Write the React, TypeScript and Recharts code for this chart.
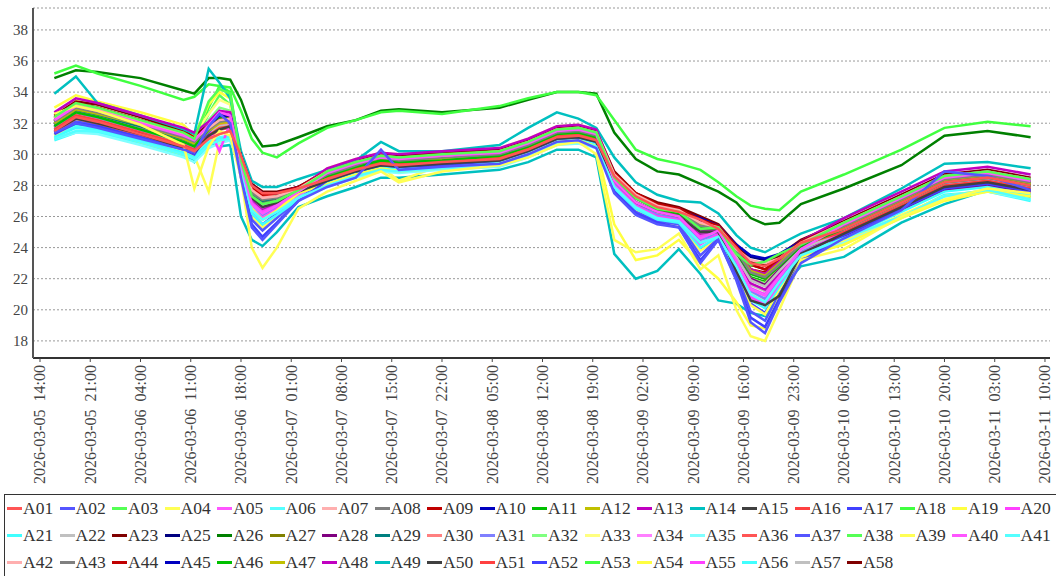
import React from 'react';
import { LineChart, Line, XAxis, YAxis, CartesianGrid } from 'recharts';

// sample times, hours after 2026-03-05 14:00
const HOURS = [2, 5, 8, 14, 20, 21.5, 23.5, 25, 26.5, 28, 29.5, 31, 33, 36, 40, 44, 47.5, 50, 56, 64, 68, 72, 75, 77.5, 80, 83, 86, 89, 92, 94.5, 97, 99, 101, 103, 106, 112, 120, 126, 132, 138];

const X_TICKS = [0, 7, 14, 21, 28, 35, 42, 49, 56, 63, 70, 77, 84, 91, 98, 105, 112, 119, 126, 133, 140];
const X_TICK_LABELS = [
  '2026-03-05  14:00', '2026-03-05  21:00', '2026-03-06  04:00', '2026-03-06  11:00',
  '2026-03-06  18:00', '2026-03-07  01:00', '2026-03-07  08:00', '2026-03-07  15:00',
  '2026-03-07  22:00', '2026-03-08  05:00', '2026-03-08  12:00', '2026-03-08  19:00',
  '2026-03-09  02:00', '2026-03-09  09:00', '2026-03-09  16:00', '2026-03-09  23:00',
  '2026-03-10  06:00', '2026-03-10  13:00', '2026-03-10  20:00', '2026-03-11  03:00',
  '2026-03-11  10:00',
];
const Y_TICKS = [18, 20, 22, 24, 26, 28, 30, 32, 34, 36, 38];

const A01 = [31.5,32.4,32.1,31.3,30.5,30.2,31.0,31.3,31.5,29.9,28.0,27.5,27.5,27.8,28.4,29.0,29.4,29.3,29.5,29.7,30.3,31.1,31.2,30.9,28.6,27.3,26.6,26.3,25.8,25.2,24.0,23.0,22.8,23.3,24.3,25.2,26.9,28.2,28.5,28.0];
const A02 = [31.4,32.0,31.7,31.0,30.3,30.1,31.8,32.6,32.0,28.5,25.3,24.5,25.5,27.0,27.9,28.5,30.3,29.0,29.2,29.4,30.0,30.8,30.9,30.4,27.5,26.1,25.5,25.3,23.0,24.5,21.9,19.2,18.5,20.5,23.0,24.6,26.4,28.9,28.6,27.7];
const A03 = [32.4,33.3,33.0,32.2,31.4,31.0,33.4,34.2,33.9,29.6,27.3,26.8,27.0,27.7,28.9,29.5,29.9,29.8,30.0,30.2,30.8,31.6,31.7,31.4,28.5,27.2,26.5,26.3,25.2,25.3,23.6,22.9,23.1,23.6,24.2,25.6,27.3,28.6,28.9,28.4];
const A04 = [32.6,33.1,32.8,31.9,30.6,27.8,30.5,31.5,31.2,28.5,24.0,22.7,24.0,26.5,27.6,28.3,28.9,28.2,28.9,29.3,29.8,30.6,30.8,30.0,24.5,23.7,23.9,24.9,22.6,23.5,20.0,18.3,18.0,20.0,23.2,23.9,26.0,27.1,27.8,27.5];
const A05 = [32.2,33.1,32.8,32.0,31.2,30.9,31.9,32.7,32.5,29.4,26.8,26.2,26.7,27.6,28.8,29.4,29.8,29.7,29.9,30.1,30.7,31.5,31.6,31.3,28.3,26.9,26.3,26.0,24.6,25.1,23.2,21.3,20.9,22.1,23.9,25.5,27.2,28.5,28.8,28.3];
const A06 = [31.0,31.5,31.5,30.8,30.0,29.7,30.6,30.9,31.0,29.0,26.4,25.8,26.3,27.2,28.0,28.6,29.0,28.9,29.1,29.3,29.9,30.7,30.8,30.5,27.9,26.6,25.9,25.7,24.3,24.7,22.8,21.0,20.5,21.8,23.5,24.6,26.0,27.3,27.7,27.1];
const A07 = [32.3,33.2,32.9,32.1,31.3,31.0,31.7,32.2,32.3,29.8,27.7,27.2,27.3,27.8,28.9,29.5,29.9,29.8,29.9,30.2,30.8,31.6,31.7,31.4,28.7,27.4,26.7,26.4,25.6,25.3,23.9,23.2,23.0,23.3,24.3,25.6,27.3,28.6,28.9,28.4];
const A08 = [32.1,33.0,32.7,31.9,31.1,30.8,31.6,32.1,32.2,29.7,27.5,27.1,27.2,27.7,28.7,29.3,29.8,29.6,29.8,30.0,30.6,31.4,31.5,31.2,28.6,27.2,26.6,26.3,25.4,25.2,23.8,22.4,22.1,22.9,24.2,25.4,27.1,28.4,28.7,28.2];
const A09 = [32.4,33.3,33.0,32.2,31.4,31.1,31.7,32.2,32.3,29.9,27.9,27.4,27.5,27.9,28.9,29.5,29.9,29.8,30.0,30.2,30.8,31.6,31.7,31.4,28.8,27.5,26.8,26.5,25.8,25.4,24.1,22.9,22.6,23.3,24.4,25.6,27.3,28.6,28.9,28.4];
const A10 = [32.2,33.1,32.9,32.1,31.3,31.0,31.8,32.5,32.5,29.9,28.0,27.5,27.5,27.9,28.8,29.4,29.9,29.8,29.9,30.1,30.7,31.5,31.7,31.4,28.7,27.4,26.7,26.4,25.9,25.4,24.2,23.5,23.3,23.6,24.4,25.6,27.3,28.6,28.9,28.4];
const A11 = [31.8,32.7,32.4,31.6,30.8,30.5,31.6,32.3,32.3,29.8,27.6,27.1,27.3,27.8,28.6,29.2,29.6,29.5,29.6,29.9,30.5,31.3,31.4,31.1,28.5,27.2,26.5,26.2,25.3,25.2,23.7,22.3,22.0,22.8,24.1,25.2,26.9,28.2,28.5,28.0];
const A12 = [32.0,32.9,32.6,31.9,31.0,30.7,31.5,32.0,32.1,29.8,27.6,27.1,27.3,27.8,28.6,29.2,29.6,29.5,29.7,29.9,30.5,31.3,31.4,31.1,28.6,27.3,26.6,26.4,25.5,25.3,23.8,22.5,22.2,23.0,24.3,25.3,27.0,28.3,28.6,28.1];
const A13 = [32.7,33.6,33.3,32.5,31.7,31.4,32.1,32.8,32.7,29.8,27.6,27.1,27.3,27.8,29.1,29.7,30.1,30.0,30.2,30.4,31.0,31.8,31.9,31.6,28.7,27.4,26.7,26.5,25.6,25.4,23.9,22.6,22.3,23.1,24.4,25.9,27.6,28.9,29.2,28.7];
const A14 = [33.9,35.0,33.3,32.5,31.6,31.3,35.5,34.6,33.6,30.2,28.3,27.9,27.9,28.4,29.0,29.6,30.8,30.2,30.2,30.6,31.7,32.7,32.3,31.7,29.8,28.2,27.4,27.0,26.9,26.2,24.8,24.0,23.7,24.2,24.9,25.9,27.8,29.4,29.5,29.1];
const A15 = [31.5,32.3,32.0,31.3,30.4,30.1,31.2,31.6,31.8,29.5,27.2,26.6,26.9,27.6,28.3,28.9,29.3,29.2,29.4,29.6,30.2,31.0,31.1,30.8,28.3,26.9,26.3,26.0,25.0,25.0,22.5,20.6,20.3,20.9,23.6,24.9,26.6,27.9,28.2,27.7];
const A16 = [31.6,32.5,32.2,31.4,30.6,30.3,31.2,31.7,31.8,29.8,27.8,27.3,27.4,27.8,28.5,29.1,29.5,29.4,29.5,29.8,30.4,31.2,31.3,31.0,28.5,27.2,26.5,26.2,25.6,25.2,23.8,22.4,22.0,22.9,24.2,25.0,26.7,28.0,28.3,27.8];
const A17 = [31.3,32.0,31.8,31.1,30.3,30.0,31.4,32.3,32.0,28.5,25.5,24.7,25.6,27.0,28.3,28.9,29.3,29.2,29.3,29.6,30.2,31.0,31.1,30.8,27.6,26.2,25.6,25.3,23.2,24.5,22.0,19.5,18.9,20.7,23.1,24.8,26.5,27.8,28.1,27.6];
const A18 = [35.2,35.7,35.2,34.4,33.5,33.7,34.5,34.4,34.3,32.8,31.0,30.1,29.8,30.7,31.7,32.2,32.7,32.8,32.6,33.1,33.6,34.0,34.0,33.8,32.2,30.3,29.7,29.4,29.0,28.2,27.3,26.7,26.5,26.4,27.6,28.7,30.3,31.7,32.1,31.8];
const A19 = [33.0,33.8,33.4,32.7,31.9,31.2,33.2,34.0,33.6,29.4,26.5,25.8,26.4,27.5,28.1,28.7,29.1,28.9,29.1,29.4,30.0,30.8,30.9,30.5,25.5,23.2,23.5,24.5,23.0,22.0,20.5,19.0,18.8,20.8,23.4,24.2,25.9,27.0,27.6,27.3];
const A20 = [31.8,32.7,32.4,31.6,30.8,30.5,31.7,30.2,32.0,29.2,26.5,25.9,26.5,27.5,28.6,29.2,29.6,29.5,29.6,29.9,30.5,31.3,31.4,31.1,28.0,26.7,26.0,25.8,24.2,24.9,22.8,20.8,20.3,21.7,23.6,25.0,26.6,27.9,28.2,27.7];
const A21 = [31.1,31.7,31.6,30.9,30.1,29.8,30.7,31.0,31.1,28.9,26.2,25.5,26.1,27.1,28.2,28.8,29.2,29.1,29.2,29.5,30.1,30.9,31.0,30.7,27.8,26.5,25.8,25.6,24.0,24.7,22.6,20.6,20.1,21.5,23.4,24.6,26.3,27.6,27.9,27.4];
const A22 = [31.6,32.5,32.2,31.4,30.6,30.3,31.3,31.8,31.9,29.5,27.2,26.7,27.0,27.6,28.5,29.1,29.5,29.4,29.5,29.8,30.4,31.2,31.3,31.0,28.3,27.0,26.3,26.0,25.0,25.0,23.4,21.9,21.5,22.5,23.9,25.0,26.7,28.0,28.3,27.8];
const A23 = [32.5,33.4,33.2,32.4,31.5,31.2,31.9,32.3,32.5,30.0,28.1,27.6,27.6,27.9,29.0,29.6,30.0,29.9,30.1,30.3,30.9,31.7,31.8,31.5,28.9,27.5,26.9,26.6,26.0,25.5,24.2,23.1,22.9,23.5,24.5,25.7,27.4,28.7,29.0,28.5];
const A25 = [32.2,33.1,32.8,32.0,31.2,30.9,31.7,32.3,32.3,29.8,27.8,27.4,27.4,27.8,28.8,29.4,29.8,29.7,29.9,30.1,30.7,31.5,31.6,31.3,28.7,27.4,26.7,26.4,25.7,25.3,24.1,23.4,23.2,23.4,24.4,25.5,27.2,28.5,28.8,28.3];
const A26 = [34.9,35.4,35.3,34.9,34.1,33.9,34.9,34.9,34.8,33.5,31.6,30.5,30.6,31.1,31.8,32.2,32.8,32.9,32.7,33.0,33.5,34.0,34.0,33.9,31.4,29.7,28.9,28.7,28.1,27.6,26.9,25.9,25.5,25.6,26.8,27.8,29.3,31.2,31.5,31.1];
const A27 = [32.1,33.0,32.7,32.0,31.1,30.8,31.6,32.1,32.2,29.8,27.7,27.2,27.3,27.8,28.8,29.4,29.8,29.7,29.9,30.1,30.7,31.5,31.6,31.3,28.6,27.3,26.6,26.3,25.6,25.3,23.9,22.6,22.3,23.1,24.3,25.4,27.1,28.4,28.7,28.2];
const A28 = [32.4,33.3,33.0,32.2,31.4,31.1,31.9,32.6,32.5,29.6,27.3,26.8,27.0,27.7,28.7,29.3,29.7,29.6,29.8,30.0,30.6,31.4,31.5,31.2,28.4,27.0,26.4,26.1,25.1,25.1,23.5,22.0,21.6,22.6,24.0,24.7,26.4,27.7,28.0,27.5];
const A29 = [31.9,32.8,32.5,31.8,30.9,30.6,31.5,32.1,32.1,29.7,27.5,27.0,27.2,27.7,28.7,29.3,29.7,29.6,29.8,30.0,30.6,31.4,31.5,31.2,28.5,27.2,26.5,26.3,25.4,25.2,23.7,22.4,22.1,22.9,24.2,25.4,27.1,28.4,28.7,28.2];
const A30 = [31.9,32.8,32.5,31.8,30.9,30.6,31.4,31.9,32.0,29.8,27.7,27.2,27.3,27.8,28.6,29.2,29.6,29.5,29.7,29.9,30.5,31.3,31.4,31.1,28.6,27.3,26.6,26.3,25.4,25.2,23.8,22.6,22.3,22.9,24.3,25.3,27.0,28.3,28.6,28.1];
const A31 = [31.7,32.5,32.3,31.5,30.7,30.4,31.6,32.4,32.2,29.3,26.8,26.1,26.6,27.5,28.5,29.1,29.5,29.4,29.6,29.8,30.4,31.2,31.3,31.0,28.1,26.8,26.1,25.9,24.5,24.9,23.0,21.2,20.7,22.0,23.7,25.1,26.8,28.1,28.4,27.9];
const A32 = [32.0,32.9,32.6,31.8,31.0,30.7,32.2,33.0,32.8,29.6,27.3,26.8,27.0,27.7,28.7,29.3,29.7,29.6,29.8,30.0,30.6,31.4,31.5,31.2,28.4,27.1,26.4,26.2,25.1,25.1,23.5,22.0,21.7,22.6,24.1,25.3,27.0,28.3,28.6,28.1];
const A33 = [32.6,33.5,33.2,32.4,31.6,31.3,32.6,33.5,33.2,29.2,26.5,25.9,26.5,27.5,29.1,29.7,30.1,30.0,30.1,30.4,31.0,31.8,31.9,31.6,28.3,26.9,26.3,26.0,24.5,25.1,23.1,21.1,20.6,22.0,23.9,25.6,27.3,28.6,28.9,28.4];
const A34 = [32.4,33.3,33.0,32.2,31.4,31.1,32.0,32.8,32.6,29.6,27.2,26.6,27.0,27.7,28.9,29.5,29.9,29.8,30.0,30.2,30.8,31.6,31.7,31.4,28.5,27.2,26.5,26.2,25.1,25.2,23.5,21.9,21.6,22.6,24.1,25.6,27.3,28.6,28.9,28.4];
const A35 = [31.0,31.4,31.3,30.6,29.8,29.5,30.4,30.7,30.9,29.0,26.6,26.0,26.4,27.2,27.9,28.5,28.9,28.8,29.0,29.2,29.8,30.6,30.7,30.4,28.0,26.6,26.0,25.7,24.5,24.7,23.0,21.3,20.9,22.0,23.6,24.3,25.9,27.3,27.6,27.1];
const A36 = [31.4,32.3,32.0,31.2,30.4,30.1,31.1,31.6,31.7,29.6,27.5,27.0,27.2,27.6,28.3,28.9,29.3,29.2,29.4,29.6,30.2,31.0,31.1,30.8,28.4,27.1,26.4,26.1,25.3,25.1,23.7,22.0,21.7,22.8,24.1,24.8,26.5,27.8,28.1,27.6];
const A37 = [31.4,32.1,31.9,31.2,30.4,30.1,31.5,32.2,32.1,28.7,25.8,25.1,25.9,27.1,28.4,29.0,29.4,29.3,29.5,29.7,30.3,31.1,31.1,30.8,27.7,26.3,25.7,25.5,23.5,24.6,22.3,19.9,19.3,21.0,23.2,25.4,27.2,28.6,28.7,28.0];
const A38 = [32.1,33.0,32.7,31.9,31.1,30.8,32.6,33.8,33.2,29.5,27.2,26.7,26.9,27.6,28.8,29.4,29.8,29.7,29.8,30.1,30.7,31.5,31.6,31.3,28.4,27.1,26.4,26.2,25.1,25.2,23.5,22.0,21.7,22.6,24.1,25.4,27.1,28.4,28.7,28.2];
const A39 = [31.2,32.1,31.8,31.0,30.2,29.9,27.6,30.8,31.0,28.8,26.0,25.3,26.0,27.1,28.2,28.8,29.2,28.3,29.3,29.5,30.1,30.9,31.0,30.7,27.7,26.4,25.7,25.5,23.8,24.6,22.4,20.3,19.7,21.3,23.3,24.4,26.1,27.3,27.7,27.4];
const A40 = [31.5,32.4,32.1,31.3,30.5,30.2,31.5,32.3,32.1,29.1,26.5,25.9,26.4,27.4,28.3,28.9,29.3,29.2,29.4,29.6,30.2,31.0,31.1,30.8,28.0,26.6,26.0,25.8,24.3,24.8,22.8,20.9,20.4,21.8,23.6,24.9,26.6,27.9,28.2,27.7];
const A41 = [31.2,31.8,31.7,31.0,30.2,29.9,30.8,31.1,31.2,29.1,26.5,25.9,26.4,27.3,28.3,28.9,29.3,29.2,29.3,29.6,30.2,31.0,31.1,30.8,28.0,26.6,26.0,25.7,24.3,24.8,22.9,21.0,20.6,21.8,23.6,24.7,26.4,27.7,28.0,27.5];
const A42 = [32.1,33.0,32.7,32.0,31.1,30.8,31.5,32.0,32.1,29.8,27.6,27.1,27.3,27.8,28.6,29.2,29.6,29.5,29.7,29.9,30.5,31.3,31.4,31.1,28.5,27.2,26.5,26.3,25.4,25.2,23.7,22.4,22.1,22.9,24.2,25.3,27.0,28.3,28.6,28.1];
const A43 = [31.9,32.8,32.5,31.7,30.9,30.6,31.4,31.9,32.0,29.6,27.3,26.8,27.0,27.7,28.6,29.2,29.6,29.5,29.7,29.9,30.5,31.3,31.4,31.1,28.4,27.1,26.4,26.1,25.1,25.1,23.5,22.0,21.6,22.6,24.0,25.1,26.8,28.2,28.4,27.9];
const A44 = [32.2,33.1,32.8,32.0,31.2,30.9,31.6,32.1,32.2,29.8,27.7,27.2,27.3,27.8,28.8,29.4,29.8,29.7,29.9,30.1,30.7,31.5,31.6,31.3,28.6,27.3,26.6,26.4,25.6,25.3,23.9,22.6,22.4,23.1,24.3,25.4,27.1,28.5,28.7,28.2];
const A45 = [32.0,32.9,32.6,31.8,31.0,30.7,31.6,32.3,32.3,29.8,27.6,27.1,27.3,27.8,28.7,29.3,29.7,29.6,29.8,30.0,30.6,31.4,31.5,31.2,28.5,27.2,26.5,26.3,25.4,25.2,23.7,22.4,22.1,22.9,24.2,25.3,27.0,28.3,28.6,28.1];
const A46 = [31.7,32.6,32.3,31.5,30.7,30.4,31.5,32.2,32.2,29.6,27.4,26.9,27.1,27.7,28.5,29.1,29.5,29.4,29.6,29.8,30.4,31.2,31.3,31.0,28.4,27.1,26.4,26.1,25.2,25.1,23.5,22.1,21.8,22.7,24.0,25.1,26.8,28.1,28.4,27.9];
const A47 = [31.9,32.8,32.5,31.7,30.9,30.6,31.4,31.9,32.0,29.7,27.6,27.0,27.2,27.7,28.6,29.2,29.6,29.5,29.7,29.9,30.5,31.3,31.4,31.1,28.5,27.2,26.5,26.2,25.4,25.1,23.7,22.4,22.1,22.8,24.2,25.2,26.9,28.2,28.5,28.0];
const A48 = [32.1,33.0,32.7,31.9,31.1,30.8,31.8,32.5,32.4,29.5,27.1,26.5,26.9,27.6,28.8,29.4,29.8,29.7,29.8,30.1,30.7,31.5,31.6,31.3,28.3,27.0,26.3,26.1,24.9,25.1,23.3,21.7,21.3,22.4,24.0,24.8,26.5,27.8,28.1,27.6];
const A49 = [31.3,31.9,31.6,31.0,30.2,29.5,30.8,30.5,30.6,26.0,24.5,24.1,25.0,26.6,27.3,27.9,28.5,28.5,28.7,29.0,29.5,30.3,30.3,29.8,23.6,22.0,22.5,23.9,22.3,20.6,20.4,19.8,19.6,21.2,22.8,23.4,25.6,26.8,27.7,27.3];
const A50 = [31.8,32.7,32.4,31.6,30.8,30.5,31.3,31.8,31.9,29.5,27.2,26.7,27.0,27.6,28.5,29.1,29.5,29.5,29.6,29.8,30.4,31.2,31.3,31.0,28.4,27.0,26.4,26.1,25.0,25.1,23.5,21.9,21.6,22.5,24.0,25.0,26.8,28.1,28.4,27.9];
const A51 = [31.7,32.6,32.3,31.5,30.7,30.4,31.3,31.8,31.9,29.9,27.8,27.3,27.4,27.8,28.5,29.1,29.5,29.4,29.6,29.8,30.4,31.2,31.3,31.0,28.5,27.2,26.5,26.3,25.6,25.2,23.8,22.6,22.3,23.1,24.2,25.1,26.8,28.1,28.4,27.9];
const A52 = [31.6,32.3,32.1,31.4,30.6,30.3,31.6,32.5,32.2,29.0,26.2,25.5,26.2,27.3,28.5,29.1,29.5,29.4,29.5,29.8,30.4,31.2,31.3,31.0,27.9,26.5,25.9,25.6,23.9,24.7,22.6,20.4,19.8,21.4,23.4,25.6,27.3,28.7,28.8,28.1];
const A53 = [31.9,32.8,32.5,31.8,30.9,30.6,33.0,34.4,34.0,29.7,27.5,26.9,27.1,27.7,28.6,29.2,29.6,29.5,29.7,29.9,30.5,31.3,31.4,31.1,28.4,27.1,26.4,26.2,25.2,25.1,23.6,22.8,23.0,23.4,24.1,25.2,26.9,28.2,28.5,28.0];
const A54 = [31.0,31.9,31.6,30.8,30.0,29.7,30.9,31.3,31.5,29.0,26.4,25.8,26.3,27.2,28.1,28.7,29.1,29.0,29.2,29.4,30.0,30.8,30.9,30.6,27.9,26.6,25.9,25.7,24.3,24.7,22.8,21.0,20.5,21.8,23.5,24.2,26.0,27.3,27.6,27.2];
const A55 = [32.0,32.9,32.6,31.9,31.0,30.7,31.8,32.6,32.4,29.4,26.9,26.3,26.8,27.6,28.7,29.3,29.7,29.6,29.8,30.0,30.6,31.4,31.5,31.2,28.3,26.9,26.3,26.0,24.7,25.0,23.2,21.4,21.0,22.2,23.9,25.3,27.0,28.3,28.6,28.1];
const A56 = [30.9,31.4,31.4,30.7,29.9,29.6,30.5,30.8,30.9,29.0,26.5,25.9,26.3,27.1,28.0,28.6,29.0,28.9,29.1,29.3,29.9,30.7,30.8,30.5,27.9,26.6,25.9,25.7,24.4,24.7,22.9,21.1,20.7,21.9,23.5,24.4,26.0,27.4,27.6,27.0];
const A57 = [31.3,32.1,31.9,31.1,30.3,30.0,31.1,31.6,31.7,29.3,27.0,26.4,26.7,27.4,28.3,28.9,29.3,29.2,29.3,29.6,30.2,31.0,31.1,30.8,28.2,26.8,26.2,25.9,24.8,24.9,23.2,21.6,21.2,22.3,23.8,24.8,26.5,27.8,28.1,27.6];
const A58 = [32.3,33.2,32.9,32.1,31.3,31.0,31.6,32.1,32.2,29.9,27.9,27.4,27.5,27.9,28.8,29.5,29.8,29.8,29.9,30.1,30.8,31.5,31.7,31.3,28.7,27.4,26.7,26.4,25.8,25.4,24.0,22.9,22.6,23.3,24.4,25.5,27.2,28.5,28.8,28.3];

const SERIES: [string, number[]][] = [
  ['A01', A01], ['A02', A02], ['A03', A03], ['A04', A04], ['A05', A05], ['A06', A06], ['A07', A07],
  ['A08', A08], ['A09', A09], ['A10', A10], ['A11', A11], ['A12', A12], ['A13', A13], ['A14', A14],
  ['A15', A15], ['A16', A16], ['A17', A17], ['A18', A18], ['A19', A19], ['A20', A20], ['A21', A21],
  ['A22', A22], ['A23', A23], ['A25', A25], ['A26', A26], ['A27', A27], ['A28', A28], ['A29', A29],
  ['A30', A30], ['A31', A31], ['A32', A32], ['A33', A33], ['A34', A34], ['A35', A35], ['A36', A36],
  ['A37', A37], ['A38', A38], ['A39', A39], ['A40', A40], ['A41', A41], ['A42', A42], ['A43', A43],
  ['A44', A44], ['A45', A45], ['A46', A46], ['A47', A47], ['A48', A48], ['A49', A49], ['A50', A50],
  ['A51', A51], ['A52', A52], ['A53', A53], ['A54', A54], ['A55', A55], ['A56', A56], ['A57', A57],
  ['A58', A58],
];

// default series paint cycle
const PALETTE = [
  '#ff5555', '#5555ff', '#55ff55', '#ffff55', '#ff55ff', '#55ffff', '#ffafaf', '#808080',
  '#c00000', '#0000c0', '#00c000', '#c0c000', '#c000c0', '#00c0c0', '#404040', '#ff4040',
  '#4040ff', '#40ff40', '#ffff40', '#ff40ff', '#40ffff', '#c0c0c0', '#800000', '#000080',
  '#008000', '#808000', '#800080', '#008080', '#ff8080', '#8080ff', '#80ff80', '#ffff80',
  '#ff80ff', '#80ffff',
];

const FONT = '"Liberation Serif", "DejaVu Serif", serif';

const chartData = HOURS.map((h, i) => {
  const row: Record<string, number> = { h };
  SERIES.forEach(([name, vals]) => { row[name] = vals[i]; });
  return row;
});

function XTick({ x, y, payload }: any) {
  const label = X_TICK_LABELS[X_TICKS.indexOf(payload.value)] ?? '';
  return (
    <g transform={`translate(${x},${y + 1})`}>
      <text
        transform="rotate(-90)"
        textAnchor="end"
        dominantBaseline="central"
        fontSize={16}
        fontFamily={FONT}
        fill="#444"
        style={{ whiteSpace: 'pre' }}
      >
        {label}
      </text>
    </g>
  );
}

function LegendBox() {
  return (
    <div
      style={{
        position: 'absolute', left: 4, top: 494, width: 1060, height: 90,
        border: '1px solid #333', boxSizing: 'border-box',
      }}
    >
      {SERIES.map(([name], i) => (
        <div
          key={name}
          style={{
            position: 'absolute', left: 2 + (i % 20) * 52.5, top: Math.floor(i / 20) * 27,
            height: 27, display: 'flex', alignItems: 'center', whiteSpace: 'nowrap',
          }}
        >
          <span style={{ display: 'inline-block', width: 15, height: 3, background: PALETTE[i % PALETTE.length], marginRight: 1 }} />
          <span style={{ fontFamily: FONT, fontSize: 17.5, color: '#333' }}>{name}</span>
        </div>
      ))}
    </div>
  );
}

export default function App() {
  // first series ends up on top, so draw in reverse
  const drawOrder = SERIES.map((s, i) => ({ name: s[0], color: PALETTE[i % PALETTE.length] })).reverse();

  return (
    <div style={{ position: 'absolute', left: 0, top: 0, width: 1056, height: 576, overflow: 'hidden', background: '#fff' }}>
      <LineChart width={1056} height={494} data={chartData} margin={{ top: 8, right: 6, left: 0, bottom: 0 }}>
        <CartesianGrid vertical={false} stroke="#999" strokeDasharray="2 2" />
        <XAxis
          type="number"
          dataKey="h"
          domain={[-0.975, 140.7]}
          ticks={X_TICKS}
          interval={0}
          allowDataOverflow
          height={136}
          axisLine={{ stroke: '#333', strokeWidth: 2 }}
          tickLine={{ stroke: '#444' }}
          tickSize={4}
          tickMargin={2}
          tick={<XTick />}
        />
        <YAxis
          domain={[16.9, 39.41]}
          ticks={Y_TICKS}
          interval={0}
          allowDataOverflow
          width={33}
          axisLine={{ stroke: '#555', strokeWidth: 2 }}
          tickLine={false}
          tickSize={0}
          tickMargin={5}
          tick={{ fontSize: 15, fill: '#444', fontFamily: FONT }}
        />
        {drawOrder.map(s => (
          <Line
            key={s.name}
            type="linear"
            dataKey={s.name}
            stroke={s.color}
            strokeWidth={2.5}
            dot={false}
            activeDot={false}
            isAnimationActive={false}
          />
        ))}
      </LineChart>
      <LegendBox />
    </div>
  );
}
